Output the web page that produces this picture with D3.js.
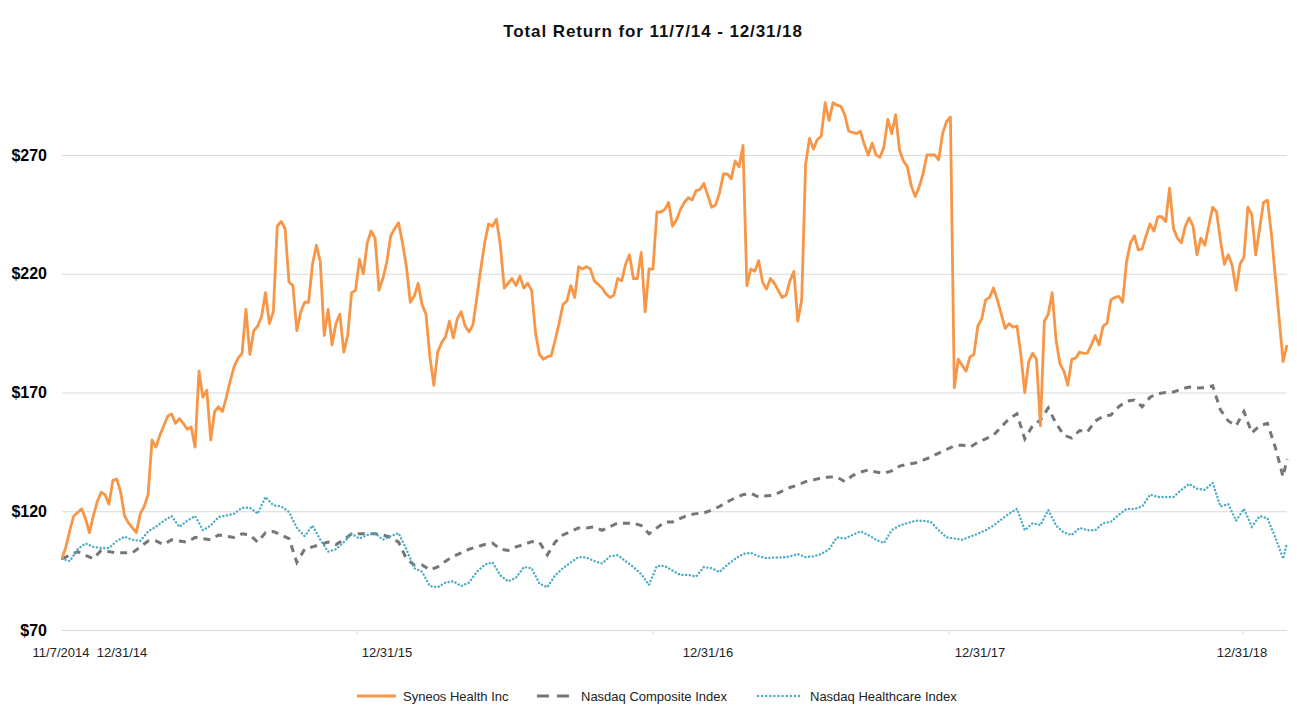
<!DOCTYPE html>
<html>
<head>
<meta charset="utf-8">
<script src="https://cdn.jsdelivr.net/npm/d3@7"></script>
<style>
  html, body { margin: 0; padding: 0; background: #fff; }
  svg { display: block; }
  text { font-family: "Liberation Sans", Arial, sans-serif; }
</style>
</head>
<body>
<svg id="chart" width="1297" height="706"></svg>
<script>
// ---------------- DATA ----------------
const startDate = "2014-11-07";
const seriesNames = ["Syneos Health Inc", "Nasdaq Composite Index", "Nasdaq Healthcare Index"];
const yTickValues = [70, 120, 170, 220, 270];
const xTickLabels = ["11/7/2014", "12/31/14", "12/31/15", "12/31/16", "12/31/17", "12/31/18"];

// Syneos Health Inc, one reading every 5 days from 11/7/2014
const syneos = [
  100,105,112,118,119.5,121,117,111,118,124,
  128,127,123,133,133.5,128,118,115,113,111,
  119,122,127,150,147,152,156,160,161,157,
  159,157,154.5,155.5,147,179,168,171,150,162,
  164,162,168,175,181,184.5,186.5,205,186,196,
  198,202,212,199,204,240,242,239,216.5,215,
  196,204,208,208,224,232,225,194,205,190,
  199,203,187,194,212,213,226,220,233,238,
  235,213,218,225,236,239,241.5,233,223,208,
  210.5,216,207,203,185,173,187,191,193.5,200,
  193,201,204,198,195.5,198.4,210,222,233,241,
  240,243,232,214,216,218,215,219,214,216,
  213,195,186,184,185,185.5,192,199,207,208.5,
  215,210,223,222,223,222,217,215.5,214,211.5,
  210,211,218,217,224,228,218,218,229,204,
  222,222,246,246,247,250,240,242.6,247,250,
  252,251,255,255.5,258,253,248,249,254,262,
  262,260,267.5,265,274,215,222,221,225.5,216.5,
  213.5,218,216,213,210,211,217,221,200,209,
  266,277,272.5,276.5,278,292,284.5,292,291,290.5,
  287,280,279.5,279,280,274.5,270,275,270,269,
  273.4,285,279,287,272,267.5,265,257,252.5,256.5,
  262,270,270,270,268,279,284,286,172,184,
  181.5,179,185,186,198,201,209,210,214,209,
  203,197,199,197.5,198,186,170,183,186.5,184,
  156,200,203,212,192,182,179,173,184,184.5,
  187,186.5,186.6,190,194,190,198,199,209,210,
  210.5,208,225,233,236,230,230.5,236,241,238,
  244,244,242,256,239,235,233,240,243.5,240,
  228,235,232,240,248,246,234,224,228,223.5,
  213,224,227,248,245,228,239,250,251,237,
  219,201,183,190
];

// Nasdaq Composite Index, one reading every 10 days, plus the final day
const nasdaqComposite = [
  100,101.5,103,101.5,100,103.5,103,102.5,102.5,102.5,
  105,107.5,107.5,106,108,107.5,107,109,108.5,108,
  110,109.5,109,110.5,110,107,111,111.5,110,108.5,
  98.5,104,105,106,107,106,108,110.5,110.5,110.5,
  110.5,110,109,107,100,97.4,97.4,95.3,96.6,99,
  101,102.5,104,105,106,106.6,104,103.5,105,106,
  107.2,107,101.6,107,110,111.5,113,113,113.4,112,
  113.5,115,115,115,114,110.5,113,115.5,115.5,117,
  118.4,119,119.3,120.5,122,124,125.6,127,127.5,126,
  126.5,126.8,128.5,130,131,132.5,133.2,134,134.4,134.4,
  132.5,135,136.5,137.4,136.5,136,137,139,139.8,140.3,
  141.5,142.8,144.5,146,147.5,147.9,147,149,150.5,152,
  155.5,159,161,150.5,156,158.4,163.5,157,152,150.8,
  154,153.4,158,160,160.5,164,166.3,166.8,164,168,
  169.5,170,170.2,171.5,172.3,171.9,172,172.8,162.7,158,
  156,162,153,156,157,147,134.5,
  142
];

// Nasdaq Healthcare Index, one reading every 10 days, plus the final day
const nasdaqHealthcare = [
  100,99,104,106.5,105,104.5,104.5,107.5,109.3,108,
  107.5,111.5,113.5,116,118,113.4,116,118,112,114,
  117.6,118.2,119,121.5,121.5,119,126,122.5,122,119.7,
  113,109.5,114,108,103,104,107,110.5,108.5,110,
  110.8,108,109.5,110.8,104,96,94.5,88.5,88,90,
  90.5,88.5,90,94.5,97.5,98.5,93,90.5,92,96.5,
  96,89.5,88,93,96,98.5,100.7,100.5,99,98,
  101,101.5,99,96.5,93.5,89,97,97,95,93.2,
  93.2,92.5,96.5,96,94.4,97.5,100,102,102.5,101,
  100.3,100.5,100.5,101,102,100.7,101,102,104,109,
  108.5,110,111.5,110,108,106.6,112,114,115,116,
  116,115.5,112,109,108.5,108,109.3,110.5,112,114,
  116.5,119,121,112,115,114.2,120.5,114,111,110,
  113,112,112,115,115.5,118.5,121,121,122,127,
  126,126,126,129,131.5,129.5,129,132,122,123,
  116,121,113.5,118,117,109,100,
  106.6
];

// ---------------- LAYOUT ----------------
const W = 1297, H = 706;
const plot = { left: 62, right: 1287, top: 155, bottom: 630 };
const colors = ["#F79646", "#767676", "#4BACC6"];
const xLabelCenters = [61, 122, 387, 708, 980, 1242];
const xTickMarks = [357, 653, 949, 1243];

const parse = d3.timeParse("%Y-%m-%d");
const t0 = parse(startDate);
const lastDay = (syneos.length - 1) * 5;
const syneosDates = syneos.map((_, i) => d3.timeDay.offset(t0, i * 5));
const idxDates = nasdaqComposite.map((_, j) =>
  j < nasdaqComposite.length - 1 ? d3.timeDay.offset(t0, j * 10) : d3.timeDay.offset(t0, lastDay));

const x = d3.scaleTime().domain([t0, d3.timeDay.offset(t0, lastDay)]).range([plot.left, plot.right]);
const y = d3.scaleLinear().domain([70, 270]).range([plot.bottom, plot.top]);

const svg = d3.select("#chart");
svg.append("rect").attr("width", W).attr("height", H).attr("fill", "#fff");

// Title
svg.append("text")
  .attr("x", 653).attr("y", 37)
  .attr("text-anchor", "middle")
  .attr("font-size", 17).attr("font-weight", "bold").attr("fill", "#111")
  .attr("letter-spacing", 0.9)
  .text("Total Return for 11/7/14 - 12/31/18");

// Y axis with gridlines
const yAxis = d3.axisLeft(y)
  .tickValues(yTickValues)
  .tickSize(-(plot.right - plot.left))
  .tickPadding(15)
  .tickFormat(d => "$" + d);
const gy = svg.append("g").attr("transform", `translate(${plot.left},0)`).call(yAxis);
gy.select(".domain").remove();
gy.selectAll(".tick line").attr("stroke", "#d9d9d9").attr("stroke-width", 1);
gy.selectAll(".tick text")
  .attr("font-family", "'Liberation Sans', Arial, sans-serif")
  .attr("font-size", 16).attr("font-weight", "bold").attr("fill", "#000");

// X tick marks and labels
svg.append("g").selectAll("line").data(xTickMarks).join("line")
  .attr("x1", d => d).attr("x2", d => d)
  .attr("y1", plot.bottom).attr("y2", plot.bottom + 4)
  .attr("stroke", "#d9d9d9");
svg.append("g").selectAll("text").data(xTickLabels).join("text")
  .attr("x", (d, i) => xLabelCenters[i]).attr("y", 657)
  .attr("text-anchor", "middle")
  .attr("font-size", 13).attr("fill", "#222")
  .text(d => d);

// Lines
const line = d3.line().x(d => x(d[0])).y(d => y(d[1])).curve(d3.curveLinear);
const zip = (dates, vals) => vals.map((v, i) => [dates[i], v]);

svg.append("path")
  .datum(zip(idxDates, nasdaqComposite))
  .attr("d", line)
  .attr("fill", "none")
  .attr("stroke", colors[1]).attr("stroke-width", 3)
  .attr("stroke-dasharray", "7,6");

svg.append("path")
  .datum(zip(idxDates, nasdaqHealthcare))
  .attr("d", line)
  .attr("fill", "none")
  .attr("stroke", colors[2]).attr("stroke-width", 2.4)
  .attr("stroke-linecap", "round")
  .attr("stroke-dasharray", "0.1,3.6");

svg.append("path")
  .datum(zip(syneosDates, syneos))
  .attr("d", line)
  .attr("fill", "none")
  .attr("stroke", colors[0]).attr("stroke-width", 2.8)
  .attr("stroke-linejoin", "round");

// Legend
const legendItems = [
  { name: seriesNames[0], x1: 357, x2: 396, tx: 403, dash: null, w: 2.8, cap: "butt" },
  { name: seriesNames[1], x1: 537, x2: 572, tx: 581, dash: "12,8", w: 3, cap: "butt" },
  { name: seriesNames[2], x1: 758, x2: 803, tx: 810, dash: "0.1,4", w: 2.4, cap: "round" }
];
const lg = svg.append("g");
legendItems.forEach((d, i) => {
  lg.append("line")
    .attr("x1", d.x1).attr("x2", d.x2).attr("y1", 696).attr("y2", 696)
    .attr("stroke", colors[i]).attr("stroke-width", d.w)
    .attr("stroke-linecap", d.cap)
    .attr("stroke-dasharray", d.dash);
  lg.append("text")
    .attr("x", d.tx).attr("y", 700.5)
    .attr("font-size", 13).attr("fill", "#222")
    .text(d.name);
});
</script>
</body>
</html>
